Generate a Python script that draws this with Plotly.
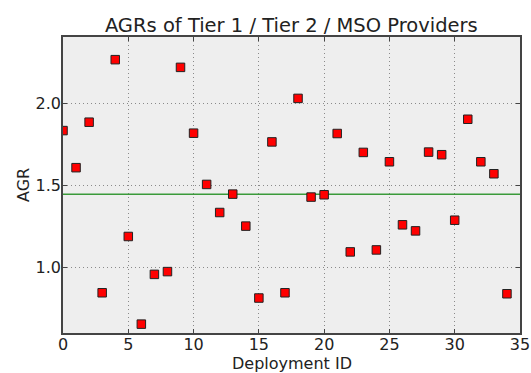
import plotly.graph_objects as go

# Annual growth rate per deployment
deployment_ids = list(range(35))
agr_values = [
    1.833, 1.607, 1.884, 0.845, 2.265, 1.188, 0.654, 0.957, 0.974, 2.218,
    1.817, 1.505, 1.334, 1.446, 1.251, 0.813, 1.764, 0.845, 2.029, 1.428,
    1.442, 1.815, 1.094, 1.700, 1.106, 1.643, 1.259, 1.222, 1.702, 1.686,
    1.287, 1.902, 1.643, 1.570, 0.839,
]
x_ticks = [0, 5, 10, 15, 20, 25, 30, 35]
y_ticks = [1.0, 1.5, 2.0]

mean_agr = sum(agr_values) / len(agr_values)

font_family = "DejaVu Sans"
text_color = "#222222"

fig = go.Figure()

# Mean AGR reference line
fig.add_trace(go.Scatter(
    x=[0, 35], y=[mean_agr, mean_agr],
    mode="lines",
    line=dict(color="#3a9a3a", width=1.5),
    hoverinfo="skip",
    showlegend=False,
))

fig.add_trace(go.Scatter(
    x=deployment_ids, y=agr_values,
    mode="markers",
    marker=dict(symbol="square", size=8.5, color="#ff0000",
                line=dict(color="#222222", width=1)),
    showlegend=False,
))

axis_common = dict(
    showline=True, linecolor="#444444", linewidth=1.5, mirror="ticks",
    ticks="inside", ticklen=4, tickcolor="#444444",
    showgrid=True, gridcolor="#8a8a8a", griddash="1px,3px", gridwidth=1,
    zeroline=False, automargin=False,
    tickfont=dict(family=font_family, size=16, color=text_color),
)

fig.update_xaxes(range=[0, 35], tickvals=x_ticks, ticklabelstandoff=-4, **axis_common)
fig.update_yaxes(range=[0.6, 2.403], tickvals=y_ticks, tickformat=".1f",
                 ticklabelstandoff=-3, **axis_common)

# Axis titles placed relative to the plot area edges
label_font = dict(family=font_family, size=16, color=text_color)
fig.add_annotation(text="Deployment ID", xref="paper", yref="paper",
                   x=0.5, y=0, xanchor="center", yanchor="middle",
                   yshift=-30, showarrow=False, font=label_font)
fig.add_annotation(text="AGR", xref="paper", yref="paper",
                   x=0, y=0.5, xanchor="center", yanchor="middle",
                   xshift=-40, textangle=-90, showarrow=False, font=label_font)

fig.update_layout(
    width=531, height=373,
    margin=dict(l=63, r=11, t=37, b=40),
    paper_bgcolor="white",
    plot_bgcolor="#eeeeee",
    title=dict(
        text="AGRs of Tier 1 / Tier 2 / MSO Providers",
        font=dict(family=font_family, size=19.5, color=text_color),
        x=0.5486, xanchor="center",
        y=1, yref="paper", yanchor="bottom", pad=dict(b=5),
    ),
)

fig.write_html("out.html")
